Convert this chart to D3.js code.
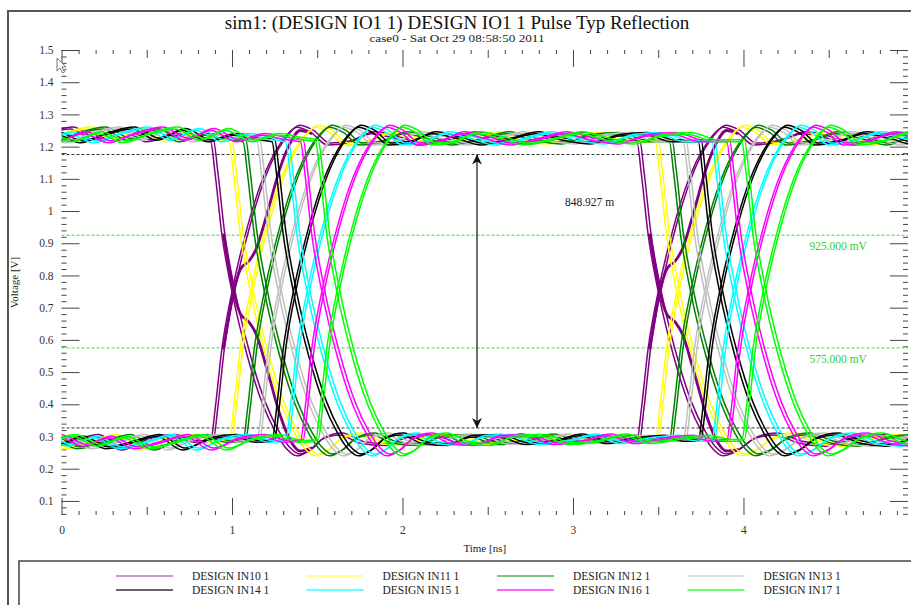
<!DOCTYPE html>
<html>
<head>
<meta charset="utf-8">
<script src="https://cdn.jsdelivr.net/npm/d3@7"></script>
<style>
  body { margin: 0; background: #fff; }
  svg { display: block; }
  text { font-family: "Liberation Serif", "Times New Roman", serif; }
</style>
</head>
<body>
<svg id="chart" width="911" height="605"></svg>
<script>
const title = 'sim1: (DESIGN IO1 1) DESIGN IO1 1 Pulse Typ Reflection'
const subtitle = 'case0 - Sat Oct 29 08:58:50 2011'

const signalNames = ['DESIGN IN10 1', 'DESIGN IN11 1', 'DESIGN IN12 1', 'DESIGN IN13 1',
  'DESIGN IN14 1', 'DESIGN IN15 1', 'DESIGN IN16 1', 'DESIGN IN17 1']
const signalColors = ['#800080', '#ffff00', '#008000', '#c0c0c0', '#000000', '#00ffff', '#ff00ff', '#00ff00']
const legendColors = ['#c896c8', '#ffff88', '#88c088', '#dedede', '#333333', '#33ffff', '#ff33ff', '#33ff33']
// delay of each signal's crossing behind IN10 (ns)
const crossingDelays = [0, 0.108, 0.19, 0.272, 0.36, 0.44, 0.527, 0.615]
// each signal is overlaid twice, slightly apart  [dt ns, dV]
const traceOffsets = [[0, 0], [0.016, 0.006]]

// IN10 waveform, high -> low at 1 ns, low -> high at 3.5 ns  [t ns, V]
const waveHighLow = [[-0.7, 1.235], [-0.55, 1.215], [-0.4, 1.24], [-0.25, 1.212], [-0.1, 1.238], [0.05, 1.255],
  [0.2, 1.22], [0.35, 1.25], [0.5, 1.215], [0.65, 1.235], [0.78, 1.222], [0.875, 1.215], [0.9, 1.12], [0.94, 0.93],
  [1.0, 0.75], [1.09, 0.55], [1.18, 0.40], [1.26, 0.31], [1.32, 0.262], [1.38, 0.24], [1.45, 0.255], [1.53, 0.292],
  [1.63, 0.305], [1.76, 0.278], [1.9, 0.272], [2.04, 0.298], [2.2, 0.3], [2.36, 0.275], [2.52, 0.282], [2.68, 0.302],
  [2.84, 0.278], [3.0, 0.29], [3.16, 0.298], [3.3, 0.285], [3.375, 0.285], [3.4, 0.38], [3.44, 0.57], [3.5, 0.75],
  [3.59, 0.95], [3.68, 1.10], [3.76, 1.19], [3.82, 1.235], [3.88, 1.26], [3.96, 1.245], [4.06, 1.205], [4.2, 1.215],
  [4.35, 1.24], [4.5, 1.225], [4.65, 1.205], [4.8, 1.232], [5.0, 1.24]]
// IN10 waveform, low -> high at 1 ns, high -> low at 3.5 ns
const waveLowHigh = [[-0.7, 0.275], [-0.55, 0.3], [-0.4, 0.27], [-0.25, 0.295], [-0.1, 0.262], [0.05, 0.28],
  [0.2, 0.3], [0.35, 0.258], [0.5, 0.29], [0.65, 0.3], [0.78, 0.282], [0.875, 0.285], [0.9, 0.38], [0.94, 0.57],
  [1.0, 0.75], [1.09, 0.95], [1.18, 1.10], [1.26, 1.19], [1.32, 1.235], [1.38, 1.26], [1.46, 1.245], [1.56, 1.205],
  [1.68, 1.212], [1.82, 1.24], [1.96, 1.225], [2.1, 1.205], [2.26, 1.22], [2.42, 1.24], [2.58, 1.22], [2.74, 1.208],
  [2.9, 1.232], [3.06, 1.238], [3.22, 1.215], [3.375, 1.215], [3.4, 1.12], [3.44, 0.93], [3.5, 0.75], [3.59, 0.55],
  [3.68, 0.40], [3.76, 0.31], [3.82, 0.262], [3.88, 0.24], [3.96, 0.255], [4.06, 0.292], [4.18, 0.305], [4.32, 0.28],
  [4.48, 0.27], [4.64, 0.292], [4.8, 0.3], [5.0, 0.28]]
// IN10 reflection shoulders after the crossing
const reflectionEdges = [
  [[0.94, 0.93], [1.0, 0.75], [1.04, 0.68], [1.09, 0.655], [1.13, 0.62], [1.2, 0.5], [1.27, 0.37], [1.33, 0.29], [1.39, 0.255], [1.46, 0.265]],
  [[0.94, 0.57], [1.0, 0.75], [1.04, 0.82], [1.09, 0.845], [1.13, 0.88], [1.2, 1.0], [1.27, 1.13], [1.33, 1.21], [1.39, 1.25], [1.46, 1.24]],
  [[3.44, 0.93], [3.5, 0.75], [3.54, 0.68], [3.59, 0.655], [3.63, 0.62], [3.7, 0.5], [3.77, 0.37], [3.83, 0.29], [3.89, 0.255], [3.96, 0.26]],
  [[3.44, 0.57], [3.5, 0.75], [3.54, 0.82], [3.59, 0.845], [3.63, 0.88], [3.7, 1.0], [3.77, 1.13], [3.83, 1.21], [3.89, 1.25], [3.96, 1.24]]
]

const xTicks = [0, 1, 2, 3, 4]
const yTicks = [1.5, 1.4, 1.3, 1.2, 1.1, 1, 0.9, 0.8, 0.7, 0.6, 0.5, 0.4, 0.3, 0.2, 0.1]
const eyeLevels = [1.1755, 0.32657]
const eyeHeightLabel = '848.927 m'
const thresholdLevels = [0.925, 0.575]
const thresholdLabels = ['925.000 mV', '575.000 mV']

const W = 911
const H = 605
const plotL = 61.5
const plotR = 908
const plotT = 50
const plotB = 515
const SERIF = '"Liberation Serif", "Times New Roman", serif'

const svg = d3.select('#chart')

const x = d3.scaleLinear().domain([0, 4.965]).range([plotL, plotR])
const y = d3.scaleLinear().domain([0.0563, 1.5]).range([plotB, plotT])

// outer frame
svg.append('path')
  .attr('d', `M8,${H} V11 H${W}`)
  .attr('fill', 'none')
  .attr('stroke', '#555')
  .attr('stroke-width', 2)

svg.append('text')
  .attr('x', 457).attr('y', 29)
  .attr('text-anchor', 'middle')
  .attr('font-family', SERIF)
  .attr('font-size', 19)
  .attr('fill', '#111')
  .text(title)

svg.append('text')
  .attr('x', 457).attr('y', 42)
  .attr('text-anchor', 'middle')
  .attr('font-family', '"Liberation Sans", Arial, sans-serif')
  .attr('font-size', 11)
  .attr('textLength', 175)
  .attr('lengthAdjust', 'spacingAndGlyphs')
  .attr('fill', '#222')
  .text(subtitle)

svg.append('defs').append('clipPath').attr('id', 'plot-clip')
  .append('rect')
  .attr('x', plotL).attr('y', plotT)
  .attr('width', plotR - plotL).attr('height', plotB - plotT)

// ticks on all four sides, pointing inwards
function tickAxis (axisFn, scale, values, size, pos, withLabels) {
  const ax = axisFn(scale).tickValues(values).tickSize(-size).tickPadding(11)
  if (!withLabels) ax.tickFormat('')
  else ax.tickFormat(d3.format('~g'))
  const g = svg.append('g').attr('transform', pos).call(ax)
  g.attr('font-family', SERIF)
  g.select('.domain').remove()
  g.selectAll('line').attr('stroke', '#444')
  g.selectAll('text').attr('font-size', 11.5).attr('fill', '#333')
  return g
}

const xMinor = d3.range(0, 50).map(d => d / 10).filter(d => d % 0.5 !== 0)
const xHalf = [0.5, 1.5, 2.5, 3.5, 4.5]
const yMinor = d3.range(3, 75).map(d => d / 50).filter(d => Math.round(d * 50) % 5 !== 0)

tickAxis(d3.axisBottom, x, xMinor, 4, `translate(0,${plotB})`)
tickAxis(d3.axisBottom, x, xHalf, 8, `translate(0,${plotB})`)
tickAxis(d3.axisBottom, x, xTicks, 17, `translate(0,${plotB})`, true)
tickAxis(d3.axisTop, x, xMinor, 4, `translate(0,${plotT})`)
tickAxis(d3.axisTop, x, xHalf, 8, `translate(0,${plotT})`)
tickAxis(d3.axisTop, x, xTicks, 17, `translate(0,${plotT})`)

tickAxis(d3.axisLeft, y, yMinor, 5, `translate(${plotL},0)`)
tickAxis(d3.axisLeft, y, yTicks, 18, `translate(${plotL},0)`, true)
  .selectAll('text').attr('dx', 3)
tickAxis(d3.axisRight, y, yMinor, 5, `translate(${plotR},0)`)
tickAxis(d3.axisRight, y, yTicks, 18, `translate(${plotR},0)`)

const plot = svg.append('g').attr('clip-path', 'url(#plot-clip)')

// reference levels
plot.selectAll('line.eye')
  .data(eyeLevels)
  .join('line')
  .attr('class', 'eye')
  .attr('x1', plotL).attr('x2', plotR)
  .attr('y1', d => y(d)).attr('y2', d => y(d))
  .attr('stroke', '#333')
  .attr('stroke-width', 1)
  .attr('stroke-dasharray', '3,2')

plot.selectAll('line.thr')
  .data(thresholdLevels)
  .join('line')
  .attr('class', 'thr')
  .attr('x1', plotL).attr('x2', plotR)
  .attr('y1', d => y(d)).attr('y2', d => y(d))
  .attr('stroke', '#33dd33')
  .attr('stroke-width', 1)
  .attr('stroke-dasharray', '3,2')

const line = d3.line()
  .x(d => x(d[0]))
  .y(d => y(d[1]))
  .curve(d3.curveMonotoneX)

signalNames.forEach((name, i) => {
  const g = plot.append('g').attr('class', 'signal')
  const delay = crossingDelays[i]
  ;[waveHighLow, waveLowHigh].forEach(wave => {
    traceOffsets.forEach(([dt, dv]) => {
      g.append('path')
        .datum(wave.map(([t, v]) => [t + delay + dt, v + dv]))
        .attr('d', line)
        .attr('fill', 'none')
        .attr('stroke', signalColors[i])
        .attr('stroke-width', 1.5)
    })
  })
  if (i === 0) {
    reflectionEdges.forEach(edge => {
      g.append('path')
        .datum(edge.map(([t, v]) => [t + delay + 0.01, v]))
        .attr('d', line)
        .attr('fill', 'none')
        .attr('stroke', signalColors[i])
        .attr('stroke-width', 2.8)
    })
  }
})

// eye height marker
const arrowX = x(2.437)
svg.select('defs').append('marker')
  .attr('id', 'arrow')
  .attr('viewBox', '0 0 10 10')
  .attr('refX', 10).attr('refY', 5)
  .attr('markerWidth', 10).attr('markerHeight', 10)
  .attr('markerUnits', 'userSpaceOnUse')
  .attr('orient', 'auto-start-reverse')
  .append('path')
  .attr('d', 'M0,0 L10,5 L0,10 L3,5 Z')
  .attr('fill', '#111')

svg.append('line')
  .attr('x1', arrowX).attr('x2', arrowX)
  .attr('y1', y(eyeLevels[0])).attr('y2', y(eyeLevels[1]))
  .attr('stroke', '#111')
  .attr('stroke-width', 1.2)
  .attr('marker-start', 'url(#arrow)')
  .attr('marker-end', 'url(#arrow)')

svg.append('text')
  .attr('x', x(2.953)).attr('y', y(1.0157))
  .attr('font-family', SERIF)
  .attr('font-size', 11.5)
  .attr('fill', '#222')
  .text(eyeHeightLabel)

svg.selectAll('text.thr')
  .data(thresholdLevels)
  .join('text')
  .attr('class', 'thr')
  .attr('x', x(4.724)).attr('y', d => y(d) + 15)
  .attr('text-anchor', 'end')
  .attr('font-family', SERIF)
  .attr('font-size', 11.5)
  .attr('fill', '#33cc33')
  .text((d, i) => thresholdLabels[i])

// axis titles
svg.append('text')
  .attr('transform', `translate(18,${(plotT + plotB) / 2}) rotate(-90)`)
  .attr('text-anchor', 'middle')
  .attr('font-family', SERIF)
  .attr('font-size', 11)
  .attr('fill', '#222')
  .text('Voltage [V]')

svg.append('text')
  .attr('x', (plotL + plotR) / 2).attr('y', 552)
  .attr('text-anchor', 'middle')
  .attr('font-family', SERIF)
  .attr('font-size', 11)
  .attr('fill', '#222')
  .text('Time [ns]')

// mouse pointer left in the screenshot
svg.append('path')
  .attr('d', 'M57,58 L57,71 L60,68 L62.5,73 L64.5,72 L62,67 L66,67 Z')
  .attr('fill', '#fff')
  .attr('stroke', '#777')
  .attr('stroke-width', 1)

// legend
svg.append('path')
  .attr('d', `M19,${H} V561 H${W}`)
  .attr('fill', 'none')
  .attr('stroke', '#444')
  .attr('stroke-width', 1.5)

const legend = svg.append('g')
  .selectAll('g')
  .data(signalNames)
  .join('g')
  .attr('transform', (d, i) => `translate(${116 + (i % 4) * 190.5},${576 + Math.floor(i / 4) * 14})`)

legend.append('line')
  .attr('x1', 0).attr('x2', 57)
  .attr('stroke', (d, i) => legendColors[i])
  .attr('stroke-width', (d, i) => i < 4 ? 2.2 : 1.4)

legend.append('text')
  .attr('x', 76).attr('y', 4)
  .attr('font-family', SERIF)
  .attr('font-size', 11.5)
  .attr('fill', '#222')
  .text(d => d)
</script>
</body>
</html>
